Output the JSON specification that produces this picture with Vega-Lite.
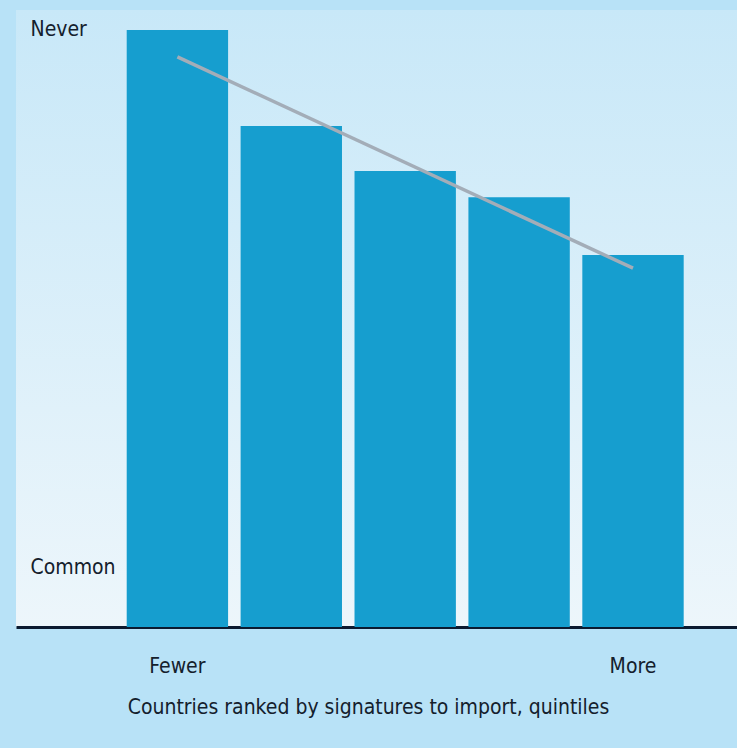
{
  "$schema": "https://vega.github.io/schema/vega-lite/v6.json",
  "width": 721,
  "height": 617,
  "autosize": {"type": "none"},
  "padding": {"left": 16, "top": 10, "right": 0, "bottom": 121},
  "background": "#b8e2f7",
  "config": {
    "view": {
      "stroke": null,
      "fill": {
        "gradient": "linear",
        "x1": 0, "y1": 0, "x2": 0, "y2": 1,
        "stops": [
          {"offset": 0, "color": "#c8e8f8"},
          {"offset": 1, "color": "#edf6fb"}
        ]
      }
    },
    "font": "Liberation Sans Narrow, DejaVu Sans Condensed, sans-serif"
  },
  "datasets": {
    "quintiles": [
      {"quintile": 1, "frequency": 100},
      {"quintile": 2, "frequency": 83.9},
      {"quintile": 3, "frequency": 76.4},
      {"quintile": 4, "frequency": 72.0},
      {"quintile": 5, "frequency": 62.3}
    ],
    "trend": [
      {"quintile": 1, "fit": 95.5},
      {"quintile": 5, "fit": 60.1}
    ]
  },
  "encoding": {
    "x": {
      "field": "quintile",
      "type": "ordinal",
      "scale": {"paddingInner": 0.11, "paddingOuter": 0.72, "align": 0.675},
      "axis": {
        "title": "Countries ranked by signatures to import, quintiles",
        "titleFont": "Liberation Sans Narrow, DejaVu Sans Condensed, sans-serif",
        "titleFontSize": 21,
        "titleFontWeight": "normal",
        "titleColor": "#14202c",
        "titlePadding": 20,
        "titleAnchor": "middle",
        "titleX": 352,
        "labelExpr": "datum.value == 1 ? 'Fewer' : datum.value == 5 ? 'More' : ''",
        "labelAngle": 0,
        "labelFontSize": 21,
        "labelColor": "#14202c",
        "labelPadding": 28,
        "ticks": false,
        "domainColor": "#0b1a30",
        "domainWidth": 3
      }
    }
  },
  "layer": [
    {
      "data": {"name": "quintiles"},
      "mark": {"type": "bar", "color": "#169ecf"},
      "encoding": {
        "y": {
          "field": "frequency",
          "type": "quantitative",
          "scale": {"domain": [0, 103.35], "nice": false},
          "axis": {
            "title": null,
            "values": [10, 100],
            "labelExpr": "datum.value == 100 ? 'Never' : 'Common'",
            "labelAlign": "left",
            "labelPadding": -14,
            "labelFontSize": 21,
            "labelColor": "#14202c",
            "ticks": false,
            "domain": false,
            "grid": false
          }
        }
      }
    },
    {
      "data": {"name": "trend"},
      "mark": {"type": "line", "color": "#a3adb8", "strokeWidth": 3.5},
      "encoding": {
        "y": {"field": "fit", "type": "quantitative"}
      }
    }
  ]
}
